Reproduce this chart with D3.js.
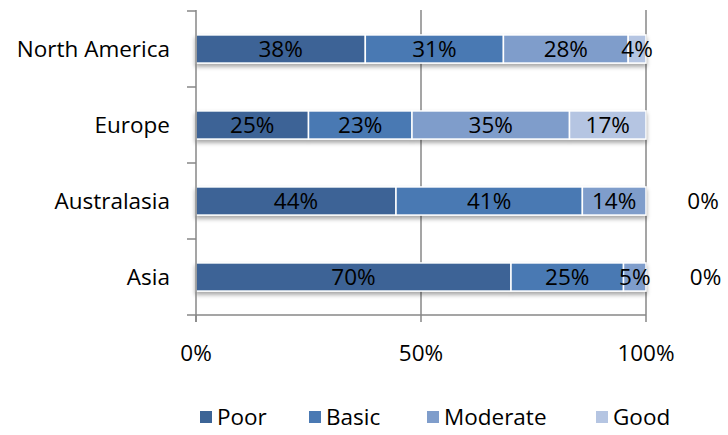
<!DOCTYPE html>
<html>
<head>
<meta charset="utf-8">
<script src="https://cdn.jsdelivr.net/npm/d3@7"></script>
<style>
  body { margin: 0; background: #fff; }
  text { font-family: "Open Sans", sans-serif; fill: #000; }
</style>
</head>
<body>
<div id="chart"></div>
<script>
var regions = ["North America", "Europe", "Australasia", "Asia"];
var levels = ["Poor", "Basic", "Moderate", "Good"];
var poor = [38, 25, 44, 70];
var basic = [31, 23, 41, 25];
var moderate = [28, 35, 14, 5];
var good = [4, 17, 0, 0];
var xTicks = [0, 0.5, 1];
var colors = ["#3c6496", "#4a79b3", "#7f9dcb", "#b5c5e2"];

var width = 728;
var height = 435;
var margin = { top: 11, left: 196, right: 82, bottom: 120 };
var fontSize = "22.5px";

var rows = regions.map(function(r, i) {
  return { region: r, Poor: poor[i], Basic: basic[i], Moderate: moderate[i], Good: good[i] };
});

var series = d3.stack()
  .keys(levels)
  .offset(d3.stackOffsetExpand)(rows);

var x = d3.scaleLinear()
  .domain([0, 1])
  .range([margin.left, width - margin.right]);

var y = d3.scaleBand()
  .domain(regions)
  .range([margin.top, height - margin.bottom])
  .paddingInner(0.63)
  .paddingOuter(0.315);

var yOuter = d3.scaleBand()
  .domain(regions)
  .range([margin.top, height - margin.bottom]);

var color = d3.scaleOrdinal().domain(levels).range(colors);

var svg = d3.select("#chart").append("svg")
  .attr("width", width)
  .attr("height", height);

var defs = svg.append("defs");
var shadow = defs.append("filter")
  .attr("id", "shadow")
  .attr("x", "-5%").attr("y", "-20%")
  .attr("width", "110%").attr("height", "160%");
shadow.append("feDropShadow")
  .attr("dx", 0).attr("dy", 3)
  .attr("stdDeviation", 2)
  .attr("flood-color", "#000")
  .attr("flood-opacity", 0.35);

// gridlines
svg.append("g")
  .selectAll("line")
  .data(xTicks.slice(1))
  .enter().append("line")
    .attr("x1", function(d) { return x(d); })
    .attr("x2", function(d) { return x(d); })
    .attr("y1", margin.top - 1)
    .attr("y2", height - margin.bottom)
    .attr("stroke", "#878787")
    .attr("stroke-width", 1.5);

// bars
var barsG = svg.append("g").attr("filter", "url(#shadow)");
barsG.selectAll("g")
  .data(series)
  .enter().append("g")
    .attr("fill", function(d) { return color(d.key); })
  .selectAll("rect")
  .data(function(d) { return d; })
  .enter().append("rect")
    .attr("x", function(d) { return x(d[0]); })
    .attr("y", function(d) { return y(d.data.region); })
    .attr("width", function(d) { return x(d[1]) - x(d[0]); })
    .attr("height", y.bandwidth())
    .attr("stroke", "#fff")
    .attr("stroke-width", 1.5);

// labels (zero-width segments get their label pushed right of the bar, as Excel does)
var labelsG = svg.append("g");
series.forEach(function(s) {
  labelsG.selectAll(null)
    .data(s)
    .enter().append("text")
      .attr("x", function(d, i) {
        var v = d.data[s.key];
        return v === 0 ? x(d[1]) + 52 + i * 2.5 : (x(d[0]) + x(d[1])) / 2;
      })
      .attr("y", function(d) { return y(d.data.region) + y.bandwidth() / 2; })
      .attr("dy", "0.36em")
      .attr("text-anchor", "middle")
      .style("font-size", fontSize)
      .text(function(d) { return d.data[s.key] + "%"; });
});

// y axis
var yAxisG = svg.append("g");
yAxisG.append("line")
  .attr("x1", margin.left).attr("x2", margin.left)
  .attr("y1", margin.top - 1).attr("y2", height - margin.bottom + 7)
  .attr("stroke", "#878787").attr("stroke-width", 1.5);
var boundaries = regions.map(function(r) { return yOuter(r); })
  .concat([height - margin.bottom]);
yAxisG.selectAll("line.tick")
  .data(boundaries)
  .enter().append("line")
    .attr("class", "tick")
    .attr("x1", margin.left - 9).attr("x2", margin.left)
    .attr("y1", function(d) { return d; }).attr("y2", function(d) { return d; })
    .attr("stroke", "#878787").attr("stroke-width", 1.5);
yAxisG.selectAll("text")
  .data(regions)
  .enter().append("text")
    .attr("x", margin.left - 26)
    .attr("y", function(d) { return y(d) + y.bandwidth() / 2; })
    .attr("dy", "0.36em")
    .attr("text-anchor", "end")
    .style("font-size", fontSize)
    .text(function(d) { return d; });

// x axis
var xAxisG = svg.append("g");
xAxisG.append("line")
  .attr("x1", margin.left).attr("x2", x(1))
  .attr("y1", height - margin.bottom).attr("y2", height - margin.bottom)
  .attr("stroke", "#878787").attr("stroke-width", 1.5);
xAxisG.selectAll("line.tick")
  .data(xTicks)
  .enter().append("line")
    .attr("class", "tick")
    .attr("x1", function(d) { return x(d); }).attr("x2", function(d) { return x(d); })
    .attr("y1", height - margin.bottom).attr("y2", height - margin.bottom + 7)
    .attr("stroke", "#878787").attr("stroke-width", 1.5);
xAxisG.selectAll("text")
  .data(xTicks)
  .enter().append("text")
    .attr("x", function(d) { return x(d); })
    .attr("y", height - margin.bottom + 38)
    .attr("dy", "0.36em")
    .attr("text-anchor", "middle")
    .style("font-size", fontSize)
    .text(d3.format(".0%"));

// legend
var legendX = [200, 309, 427, 596];
var legend = svg.append("g");
var items = legend.selectAll("g")
  .data(levels)
  .enter().append("g")
    .attr("transform", function(d, i) { return "translate(" + legendX[i] + ",411)"; });
items.append("rect")
  .attr("width", 12).attr("height", 12)
  .attr("fill", function(d) { return color(d); });
items.append("text")
  .attr("x", 17)
  .attr("y", 6)
  .attr("dy", "0.36em")
  .style("font-size", fontSize)
  .text(function(d) { return d; });
</script>
</body>
</html>
